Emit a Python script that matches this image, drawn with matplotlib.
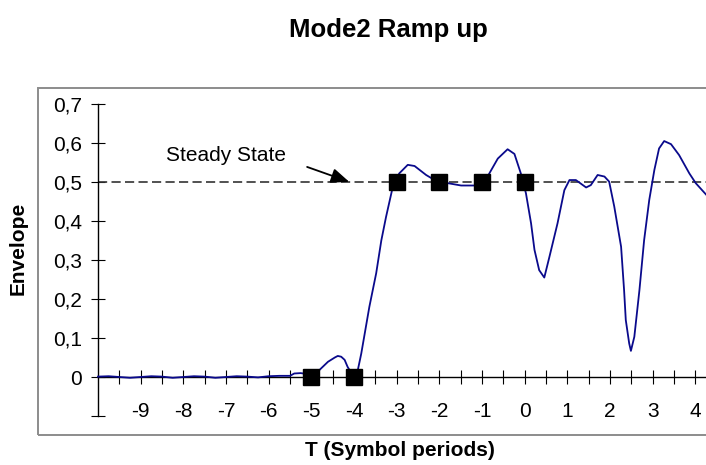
import matplotlib
matplotlib.use('Agg')
import matplotlib.pyplot as plt
from matplotlib.patches import Rectangle
from matplotlib.ticker import FixedLocator, FuncFormatter

plt.rcParams['font.family'] = ['Liberation Sans', 'DejaVu Sans']
plt.rcParams['axes.unicode_minus'] = False

# envelope curve (T in symbol periods)
curve_t = [-10.0, -9.75, -9.5, -9.25, -9.0, -8.75, -8.5, -8.25, -8.0, -7.75, -7.5, -7.25,
           -7.0, -6.75, -6.5, -6.25, -6.0, -5.75, -5.5, -5.4, -5.25, -5.0, -4.81, -4.61,
           -4.45, -4.38, -4.3, -4.22, -4.15, -4.05, -3.99, -3.91, -3.83, -3.64, -3.48,
           -3.36, -3.25, -3.09, -2.94, -2.74, -2.58, -2.31, -2.11, -1.80, -1.49, -1.18,
           -0.87, -0.63, -0.40, -0.24, -0.09, 0.03, 0.15, 0.23, 0.34, 0.46, 0.58, 0.77,
           0.93, 1.05, 1.20, 1.44, 1.55, 1.71, 1.87, 1.98, 2.10, 2.26, 2.33, 2.37, 2.45,
           2.49, 2.57, 2.69, 2.80, 2.92, 3.04, 3.15, 3.27, 3.43, 3.62, 3.86, 4.01, 4.25]
curve_v = [0.001, 0.002, 0.000, -0.002, 0.000, 0.002, 0.001, -0.002, 0.000, 0.002, 0.001,
           -0.002, 0.000, 0.002, 0.001, -0.001, 0.002, 0.003, 0.003, 0.009, 0.010, 0.006,
           0.018, 0.039, 0.050, 0.054, 0.052, 0.044, 0.026, 0.008, 0.002, 0.018, 0.060,
           0.180, 0.266, 0.350, 0.410, 0.488, 0.522, 0.544, 0.541, 0.518, 0.505, 0.497,
           0.491, 0.491, 0.514, 0.560, 0.584, 0.572, 0.522, 0.471, 0.394, 0.326, 0.274,
           0.255, 0.308, 0.394, 0.479, 0.505, 0.505, 0.486, 0.492, 0.518, 0.514, 0.501,
           0.437, 0.334, 0.223, 0.146, 0.086, 0.067, 0.103, 0.223, 0.351, 0.454, 0.531,
           0.586, 0.605, 0.597, 0.569, 0.522, 0.497, 0.468]

# black square sample points
marker_t = [-5, -4, -3, -2, -1, 0]
marker_v = [0, 0, 0.5, 0.5, 0.5, 0.5]

steady_level = 0.5

x_major = list(range(-9, 5))
x_minor = [x + 0.5 for x in range(-10, 4)]
y_ticks = [-0.1, 0, 0.1, 0.2, 0.3, 0.4, 0.5, 0.6, 0.7]

fig = plt.figure(figsize=(7.06, 4.65), dpi=100)

# gray chart-area frame (runs off the right edge like the reference)
fig.patches.append(Rectangle((38 / 706, 30 / 465), 1.0, (435 - 88) / 465,
                             transform=fig.transFigure, fill=False,
                             edgecolor='#8c8c8c', linewidth=1.4))

ax = fig.add_axes([98 / 706, 49 / 465, 608 / 706, 312 / 465])
ax.set_xlim(-10, 4.25)
ax.set_ylim(-0.1, 0.7)

for side in ['top', 'right']:
    ax.spines[side].set_visible(False)
ax.spines['bottom'].set_position(('data', 0))
ax.spines['bottom'].set_linewidth(1.0)
ax.spines['left'].set_linewidth(1.0)

ax.xaxis.set_major_locator(FixedLocator(x_major))
ax.xaxis.set_minor_locator(FixedLocator(x_minor))
ax.yaxis.set_major_locator(FixedLocator(y_ticks))
ax.yaxis.set_major_formatter(FuncFormatter(
    lambda v, p: '' if v < -0.05 else ('0' if abs(v) < 1e-9 else ('%.1f' % v).replace('.', ','))))

ax.tick_params(axis='x', which='both', direction='inout', length=10, width=0.8,
               labelsize=15, pad=13)
ax.tick_params(axis='y', which='major', direction='inout', length=10, width=0.8,
               labelsize=15, pad=6.5)

ax.axhline(steady_level, color='#333333', linewidth=1.2, linestyle=(0, (5.5, 2.6)), zorder=2)
ax.plot(curve_t, curve_v, color='#0a0a8c', linewidth=1.3, zorder=3, clip_on=False)
ax.plot(marker_t, marker_v, linestyle='none', marker='s', markersize=11.5,
        color='black', zorder=4, clip_on=False)

ax.annotate('', xy=(-4.05, 0.498), xytext=(-5.16, 0.541),
            arrowprops=dict(arrowstyle='-|>,head_length=1.1,head_width=0.45',
                            color='black', linewidth=1.3))
ax.text(-8.41, 0.567, 'Steady State', fontsize=15, ha='left', va='center')

fig.text(388 / 706, 1 - 30 / 465, 'Mode2 Ramp up', fontsize=18.5, fontweight='bold',
         ha='center', va='center')
fig.text(400 / 706, 1 - 450 / 465, 'T (Symbol periods)', fontsize=15, fontweight='bold',
         ha='center', va='center')
fig.text(18 / 706, 1 - 248 / 465, 'Envelope', fontsize=15, fontweight='bold',
         ha='center', va='center', rotation=90)

fig.savefig('out.png', dpi=100)
